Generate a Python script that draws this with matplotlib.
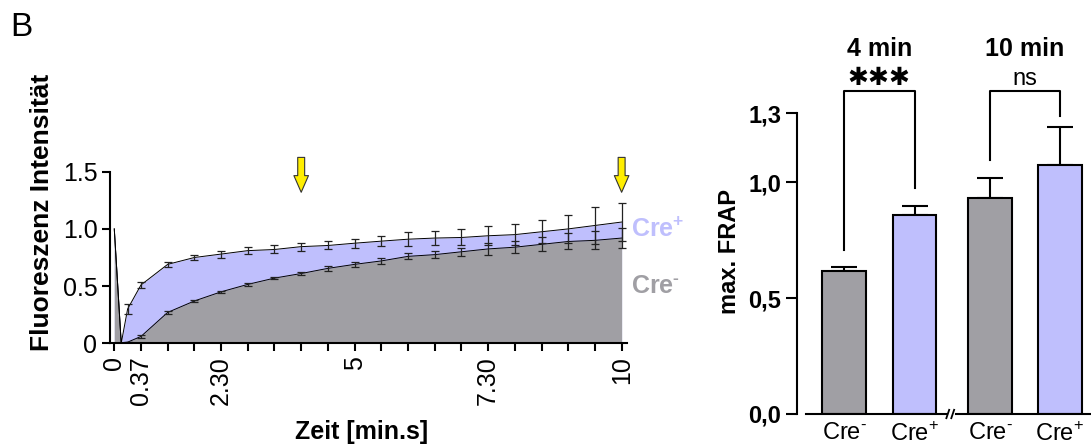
import matplotlib
matplotlib.use('Agg')
from matplotlib import pyplot as plt
import numpy as np

plt.rcParams['font.family'] = ['Liberation Sans', 'DejaVu Sans']
plt.rcParams['mathtext.fontset'] = 'custom'
plt.rcParams['mathtext.rm'] = 'Liberation Sans'
plt.rcParams['mathtext.bf'] = 'Liberation Sans:bold'

GRAY = '#a09fa4'
LAV = '#bfbffd'

# --- FRAP time course (x = time point index on the categorical axis) ---
t_idx = [0, 0.26, 0.5, 1, 2, 3, 4, 5, 6, 7, 8, 9, 10, 11, 12, 13, 14, 15, 16, 17, 18, 19]
tick_labels = ['0', '0.37', '2.30', '5', '7.30', '10']
tick_label_idx = [0, 1, 4, 9, 14, 19]

cre_plus = [1.0, 0.0, 0.30, 0.51, 0.69, 0.75, 0.78, 0.81, 0.82, 0.845, 0.855, 0.875,
            0.893, 0.91, 0.92, 0.925, 0.94, 0.95, 0.975, 1.0, 1.03, 1.06]
cre_plus_err = [0, 0, 0.04, 0.03, 0.02, 0.025, 0.03, 0.03, 0.035, 0.035, 0.035, 0.04,
                0.045, 0.06, 0.065, 0.07, 0.085, 0.09, 0.1, 0.12, 0.16, 0.17]
cre_minus = [1.0, 0.0, 0.01, 0.06, 0.27, 0.37, 0.45, 0.515, 0.57, 0.61, 0.655, 0.69,
             0.72, 0.76, 0.775, 0.80, 0.825, 0.84, 0.865, 0.89, 0.90, 0.92]
cre_minus_err = [0, 0, 0.0, 0.01, 0.01, 0.01, 0.01, 0.01, 0.01, 0.012, 0.02, 0.02,
                 0.025, 0.025, 0.03, 0.035, 0.05, 0.05, 0.06, 0.07, 0.08, 0.09]
arrow_idx = [7, 19]

# --- max. FRAP bars ---
bar_labels = ['Cre$^{\u2010}$', 'Cre$^{+}$', 'Cre$^{\u2010}$', 'Cre$^{+}$']
bar_vals = [0.617, 0.861, 0.935, 1.074]
bar_err = [0.018, 0.039, 0.085, 0.166]
groups = ['4 min', '10 min']
sig = ['***', 'ns']

fig = plt.figure(figsize=(10.91, 4.46), dpi=100)

# ---------------- left panel ----------------
ax = fig.add_axes([110/1091, (446-343.3)/446, 516.7/1091, 171.6/446])
t = np.array(t_idx)
ax.fill_between(t, cre_plus, 0, color=LAV, lw=0)
ax.plot(t, cre_plus, color='k', lw=0.7)
ax.fill_between(t, cre_minus, 0, color=GRAY, lw=0)
ax.plot(t, cre_minus, color='k', lw=0.7)
ax.errorbar(t[2:], cre_plus[2:], yerr=cre_plus_err[2:], fmt='none', ecolor='#222222',
            elinewidth=0.9, capsize=3, capthick=0.9)
ax.errorbar(t[2:], cre_minus[2:], yerr=cre_minus_err[2:], fmt='none', ecolor='#222222',
            elinewidth=0.9, capsize=3, capthick=0.9)

for i in arrow_idx:
    ax.annotate('', xy=(i, 1.32), xytext=(i, 1.625), annotation_clip=False,
                arrowprops=dict(arrowstyle='simple,head_length=1.2,head_width=1.05,tail_width=0.5',
                                mutation_scale=10, fc='#ffee00', ec='#333333', lw=0.8,
                                shrinkA=0, shrinkB=0))

ax.text(19.34, 0.99, 'Cre$^{\\mathbf{+}}$', color=LAV, fontsize=18, fontweight='bold',
        va='center', ha='left', clip_on=False)
ax.text(19.34, 0.50, 'Cre$^{\\mathbf{\u2010}}$', color=GRAY, fontsize=18, fontweight='bold',
        va='center', ha='left', clip_on=False)

ax.set_xlim(-0.16, 19.19)
ax.set_ylim(0, 1.5)
ax.set_xticks(np.arange(20), minor=True)
ax.set_xticks(tick_label_idx)
ax.set_xticklabels(tick_labels, rotation=90, fontsize=18)
ax.set_yticks([0, 0.5, 1.0, 1.5])
ax.set_yticklabels(['0', '0.5', '1.0', '1.5'], fontsize=18)
ax.tick_params(which='both', direction='out', length=6, width=1.5, pad=3)
for s in ['top', 'right']:
    ax.spines[s].set_visible(False)
for s in ['left', 'bottom']:
    ax.spines[s].set_linewidth(1.5)

fig.text(42/1091, 1-212/446, 'Fluoreszenz Intensität', rotation=90, fontsize=19,
         fontweight='bold', ha='center', va='center')
fig.text(362/1091, 1-432/446, 'Zeit [min.s]', fontsize=18, fontweight='bold',
         ha='center', va='center')
fig.text(10/1091, 1-27/446, 'B', fontsize=24, ha='left', va='center')

# ---------------- right panel ----------------
bx = fig.add_axes([797/1091, (446-414)/446, 294/1091, 301/446])
xpos = [0, 1, 2.07, 3.06]
colors = [GRAY, LAV, GRAY, LAV]
bx.bar(xpos, bar_vals, width=0.62, color=colors, edgecolor='k', linewidth=1.5, zorder=2)
bx.errorbar(xpos, bar_vals, yerr=[np.zeros(4), bar_err], fmt='none', ecolor='k',
            elinewidth=1.5, capsize=9.5, capthick=1.5, zorder=1)

bx.set_xlim(-0.667, 3.5)
bx.set_ylim(0, 1.3)
bx.set_yticks([0, 0.5, 1.0, 1.3])
bx.set_yticklabels(['0,0', '0,5', '1,0', '1,3'], fontsize=17, fontweight='bold')
bx.set_xticks(xpos)
bx.set_xticklabels(bar_labels, fontsize=17)
bx.tick_params(axis='x', length=0, pad=6)
bx.tick_params(axis='y', direction='out', length=8, width=1.5)
for s in ['top', 'right', 'bottom']:
    bx.spines[s].set_visible(False)
bx.spines['left'].set_linewidth(1.5)

# broken x axis
bx.plot([-0.54, 1.46], [0, 0], color='k', lw=1.5, clip_on=False, zorder=3)
bx.plot([1.58, 3.5], [0, 0], color='k', lw=1.5, clip_on=False, zorder=3)
for dx in [1.47, 1.54]:
    bx.plot([dx - 0.02, dx + 0.02], [-0.018, 0.018], color='k', lw=1.3, clip_on=False)

# significance brackets
top = 1.396
for g in range(2):
    a, b = 2 * g, 2 * g + 1
    xa, xb = xpos[a], xpos[b]
    ya = bar_vals[a] + bar_err[a] + 0.075
    yb = bar_vals[b] + bar_err[b] + (0.078 if g == 0 else 0.047)
    bx.plot([xa, xa, xb, xb], [ya, top, top, yb], color='k', lw=1.5, clip_on=False)
    xm = (xa + xb) / 2
    if sig[g] == '***':
        bx.text(xm, 1.45, '\u2731\u2731\u2731', family='DejaVu Sans', fontsize=18,
                ha='center', va='center', clip_on=False)
    else:
        bx.text(xm, 1.445, sig[g], fontsize=17, ha='center', va='center', clip_on=False)
    bx.text(xm, 1.575, groups[g], fontsize=18, fontweight='bold', ha='center', va='center',
            clip_on=False)

fig.text(730/1091, 1-252/446, 'max. FRAP', rotation=90, fontsize=17, fontweight='bold',
         ha='center', va='center')

fig.savefig('out.png', dpi=100)
